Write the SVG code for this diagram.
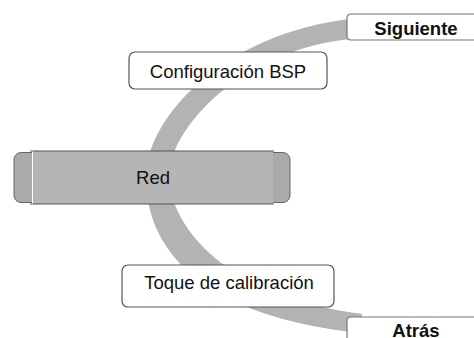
<svg xmlns="http://www.w3.org/2000/svg" width="474" height="338" viewBox="0 0 474 338">
<style>
text{font-family:"Liberation Sans",Arial,sans-serif;font-size:18.5px;fill:#111;text-anchor:middle}
.b{font-weight:bold}
.box{fill:#fff;stroke:#555;stroke-width:1.2}
.tab{fill:#fff;stroke:#777;stroke-width:1.2}
</style>
<rect width="474" height="338" fill="#fff"/>
<g id="connectors">
<path d="M 362,18 C 235,27 146,112 146,178 C 146,255 210,318 362,333 L 362,314 C 236,298 175,237 168,178 C 172,118 255,44 362,38 Z" fill="#b3b3b3"/>
</g>
<g id="siguiente">
<path class="tab" d="M 480,14 L 351,14 Q 347,14 347,18 L 347,36 Q 347,40 351,40 L 480,40"/>
<text class="b" x="416" y="35">Siguiente</text>
</g>
<g id="config">
<rect class="box" x="129" y="52" width="198" height="37" rx="6"/>
<text x="228" y="78">Configuración BSP</text>
</g>
<g id="red">
<rect x="14" y="152.5" width="276" height="50" rx="7" fill="#aaaaad" stroke="#666" stroke-width="1"/>
<rect x="32" y="151" width="241" height="53" fill="#b5b5b5"/>
<line x1="30" y1="151" x2="274" y2="151" stroke="#555" stroke-width="1.2"/>
<line x1="30" y1="204" x2="274" y2="204" stroke="#555" stroke-width="1.2"/>
<line x1="32.5" y1="151.6" x2="32.5" y2="203.4" stroke="#fff" stroke-width="1"/>
<text x="153" y="183.5">Red</text>
</g>
<g id="toque">
<rect class="box" x="122" y="265" width="212" height="42" rx="6"/>
<text x="229" y="289">Toque de calibración</text>
</g>
<g id="atras">
<path class="tab" d="M 480,317 L 351,317 Q 347,317 347,321 L 347,345"/>
<text class="b" x="416" y="337">Atrás</text>
</g>
</svg>
